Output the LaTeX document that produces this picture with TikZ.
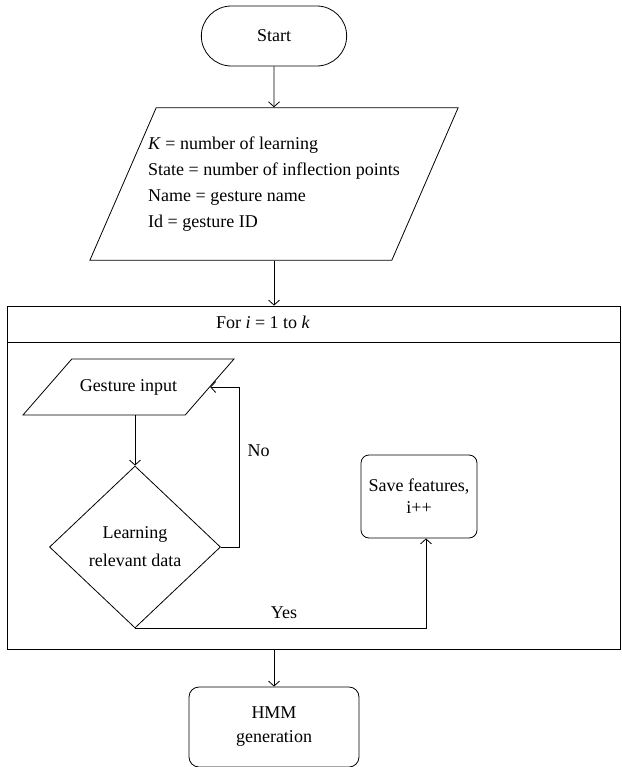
\documentclass[tikz,border=0pt]{standalone}
\usepackage{fontspec}
\setmainfont{Liberation Serif}
\usetikzlibrary{shapes.geometric, shapes.misc, arrows.meta, positioning}

\begin{document}
\begin{tikzpicture}[
                x=1pt, y=-1pt,
                line width=.8pt,
                >={Straight Barb[length=5pt, width=11pt]},
                font=\fontsize{18}{26}\selectfont,
                terminal/.style={draw, rounded rectangle, minimum width=152pt, minimum height=60pt},
                inout/.style={draw, trapezium, trapezium stretches body},
                decide/.style={draw, diamond, inner sep=0pt, minimum width=171pt, minimum height=162pt, align=center},
                proc/.style={draw, rectangle, rounded corners=10pt, align=center},
                frame/.style={draw, rectangle, inner sep=0pt},
            ]
                \useasboundingbox (0, 0) rectangle (621, 767);
                % top part
                \node[terminal] (start) at (274, 36) {Start};
                \node[inout, trapezium left angle=66.5, trapezium right angle=113.5, inner ysep=29pt, inner xsep=-8pt,
                      minimum width=368pt, minimum height=152pt, align=left] (data) at (274, 184)
                      {\textit{K} = number of learning\\State = number of inflection points\\Name = gesture name\\Id = gesture ID};
                % loop frame
                \node[frame, minimum width=613pt, minimum height=36pt] (loophead) at (313.5, 324) {};
                \node[frame, minimum width=613pt, minimum height=307pt, below=0pt of loophead] (loopbody) {};
                \node (fortext) at (263, 322) {For \textit{i} = 1 to \textit{k}};
                % inside the loop
                \node[inout, trapezium left angle=48.8, trapezium right angle=131.2, inner ysep=20pt,
                      minimum width=211pt, minimum height=56pt] (gesture) at (128.5, 387) {Gesture input};
                \node[decide, font=\fontsize{18}{28}\selectfont] (check) at (135, 547) {Learning\\relevant data};
                \node[proc, rounded corners=8pt, minimum width=116pt, minimum height=83pt,
                      font=\fontsize{18}{22}\selectfont] (save) at (419, 496.5) {Save features,\\i++};
                \coordinate (saveIn) at ([xshift=7pt]save.south);
                % end
                \node[proc, minimum width=170pt, minimum height=80pt, font=\fontsize{18}{24}\selectfont] (hmm) at (274, 727) {HMM\\generation};

                \draw[->] (start) -- (data);
                \draw[->] (data.south) -- (data.south |- loophead.north);
                \draw[->] (check.north |- gesture.south) -- (check.north);
                \draw[->] (check.east) -- ++(18, 0) |- (gesture.east) node[pos=.3, right=5pt] {No};
                \draw[->] (check.south) -| (saveIn) node[pos=.256, above=6pt] {Yes};
                \draw[->] (hmm.north |- loopbody.south) -- (hmm.north);
            \end{tikzpicture}
\end{document}
